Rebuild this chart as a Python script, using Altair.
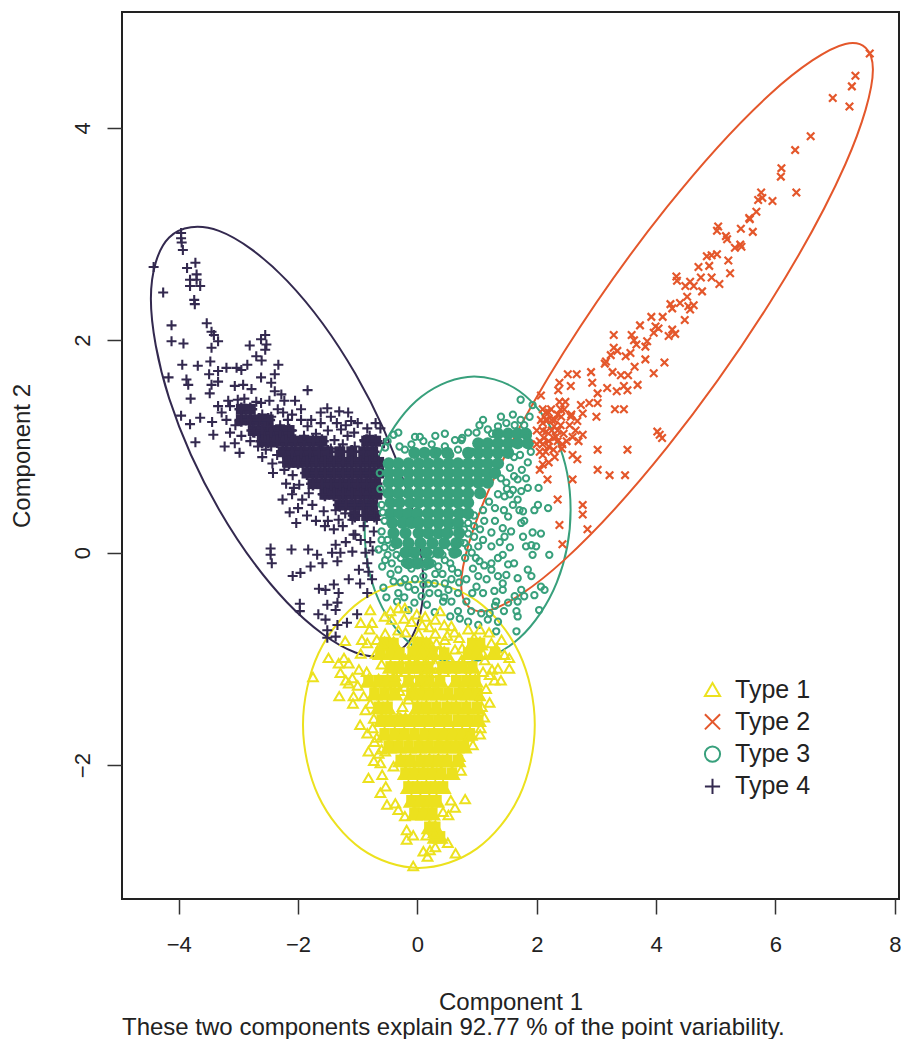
import altair as alt
import pandas as pd

TYPES = ["Type 1", "Type 2", "Type 3", "Type 4"]
COLORS = ["#ECE11E", "#E4572B", "#38A07C", "#33294F"]
PLUS = "M-1,0L1,0M0,-1L0,1"
EX = "M-1,-1L1,1M-1,1L1,-1"
SHAPES = ["triangle-up", EX, "circle", PLUS]

ellipse_1 = [(1.967,-1.62),(1.707,-0.947),(0.996,-0.454),(0.025,-0.273),(-0.946,-0.454),(-1.657,-0.947),(-1.917,-1.62),(-1.657,-2.293),(-0.946,-2.786),(0.025,-2.967),(0.996,-2.786),(1.707,-2.293)]
ellipse_2 = [(7.633,4.548),(7.171,4.789),(5.908,4.316),(4.183,3.255),(2.458,1.891),(1.195,0.589),(0.733,-0.302),(1.195,-0.543),(2.458,-0.07),(4.183,0.991),(5.908,2.355),(7.171,3.657)]
ellipse_3 = [(2.567,0.405),(2.336,1.064),(1.705,1.522),(0.842,1.655),(-0.021,1.428),(-0.652,0.902),(-0.883,0.217),(-0.652,-0.442),(-0.021,-0.90),(0.842,-1.033),(1.705,-0.806),(2.336,-0.28)]
ellipse_4 = [(0.10,-0.30),(-0.206,0.637),(-1.04,1.684),(-2.183,2.559),(-3.325,3.029),(-4.16,2.967),(-4.466,2.39),(-4.16,1.453),(-3.325,0.407),(-2.183,-0.469),(-1.04,-0.939),(-0.206,-0.877)]

core_1 = {
-0.85:[-0.55,-0.40,0.00,0.15,0.92,1.05],
-0.94:[-0.62,-0.45,-0.30,-0.08,0.08,0.25,0.45,0.85,1.00,1.30],
-1.07:[-0.45,-0.30,-0.12,0.02,0.18,0.42,0.58,0.75,0.92],
-1.20:[-0.82,-0.65,-0.50,-0.38,-0.15,0.05,0.20,0.38,0.65,0.82,0.97],
-1.32:[-0.72,-0.55,-0.38,-0.10,0.05,0.20,0.35,0.52,0.70,0.85,1.00],
-1.45:[-0.65,-0.50,0.00,0.15,0.32,0.50,0.65,0.82,1.00],
-1.57:[-0.60,-0.45,-0.28,-0.12,0.02,0.18,0.35,0.50,0.68,0.85,1.02],
-1.70:[-0.55,-0.38,-0.22,-0.05,0.12,0.28,0.45,0.60,0.75,0.88],
-1.82:[-0.48,-0.32,-0.15,0.02,0.18,0.35,0.50,0.65,0.78],
-1.95:[-0.28,-0.12,0.05,0.20,0.35,0.50,0.68],
-2.07:[-0.20,-0.05,0.10,0.25,0.40,0.58],
-2.20:[-0.15,0.00,0.15,0.30,0.43],
-2.33:[-0.10,0.05,0.20,0.32],
-2.45:[-0.05,0.10,0.25],
-2.58:[0.20,0.30],
-2.67:[0.30,0.38],
}
open_1 = [(-1.49,-0.99),(-1.75,-1.17),(-1.31,-1.35),(-1.07,-1.35),(-1.08,-1.42),(-0.96,-1.62),(-0.84,-1.70),(-0.68,-1.74),(-0.82,-1.87),(-0.73,-1.96),(-0.62,-1.98),(-0.82,-2.12),(-0.59,-2.09),(-0.40,-2.01),(-0.62,-2.26),(-0.53,-2.20),(-0.51,-2.37),(-0.37,-2.36),(-0.32,-2.42),(-0.21,-2.48),(-0.18,-2.61),(-0.18,-2.70),(-0.07,-2.66),(0.10,-2.81),(0.21,-2.80),(0.17,-2.86),(0.15,-2.66),(0.27,-2.64),(0.30,-2.77),(0.51,-2.73),(-0.07,-2.95),(0.64,-2.83),(0.80,-2.32),(0.56,-2.33),(0.63,-2.40),(0.43,-2.44),(0.52,-2.47),(0.73,-2.05),(0.71,-1.92),(0.93,-1.81),(0.86,-1.73),(1.05,-1.71),(1.06,-1.65),(1.21,-1.41),(1.29,-1.20),(1.54,-1.09),(1.54,-0.99),(1.35,-1.09),(1.21,-1.15),(-1.32,-1.04),(-1.23,-0.99),(-1.29,-1.13),(-1.15,-1.23),(-1.09,-1.18),(-0.98,-1.10),(-0.90,-1.35),(-0.87,-1.48),(-0.79,-1.42),(-0.73,-1.56),(-1.21,-0.83),(-0.93,-0.82),(-0.76,-0.66),(-0.95,-0.66),(-0.79,-0.54),(-0.32,-0.52),(-0.21,-0.52),(0.02,-0.76),(0.30,-0.76),(0.35,-0.93),(0.63,-0.91),(0.57,-0.69),(1.24,-0.85),(1.41,-0.82),(1.46,-0.96),(-0.54,-0.76),(-0.84,-0.85),(-1.15,-1.04),(-0.65,-1.89),(-0.54,-1.87),(0.13,-0.60),(0.30,-0.63),(-0.43,-0.63),(-0.01,-0.58),(-0.32,-0.73),(0.46,-0.82),(0.24,-0.88),(0.74,-1.01),(1.13,-1.01),(-0.09,-1.01),(0.13,-1.10),(0.30,-1.13),(-0.37,-1.16),(-0.21,-1.26),(-0.15,-1.38),(-0.32,-1.54),(-0.70,-0.95),(-0.55,-0.60),(-0.60,-1.05),(-0.20,-0.75),(-0.10,-0.65),(0.20,-0.70),(0.45,-0.68),(0.70,-0.80),(0.85,-0.72),(1.05,-0.72),(1.20,-0.75),(1.32,-0.90),(1.10,-1.12),(1.15,-1.28),(1.25,-1.10),(1.40,-1.20),(0.25,-0.95),(0.55,-1.00),(0.20,-1.00),(0.15,-1.25),(0.40,-1.22),(-0.20,-1.12),(-0.30,-1.30),(-0.25,-1.45),(-0.45,-1.30),(-0.80,-0.72),(-0.68,-0.82),(-0.45,-0.55),(-0.38,-0.85),(-0.22,-0.62),(-0.08,-0.85),(0.08,-0.68),(0.10,-0.90),(0.38,-0.55),(0.32,-0.85),(0.50,-0.78),(0.62,-0.75),(0.45,-0.95),(0.75,-0.90),(0.95,-0.80),(1.10,-0.95),(1.25,-0.95),(0.05,-1.00),(0.30,-1.05),(0.45,-1.12),(0.12,-1.15),(-0.05,-1.20),(-0.20,-1.00),(-0.08,-1.30),(-0.20,-1.55),(-0.35,-1.12),(-0.60,-0.85),(-0.95,-0.95),(-1.00,-1.25),(-0.85,-1.12),(-1.20,-1.20),(1.08,-1.45),(1.12,-1.55),(1.05,-1.35),(0.95,-1.12),(-0.75,-1.65),(-0.72,-1.78),(-0.60,-1.85)]

open_2 = [(7.58,4.70),(7.34,4.49),(7.28,4.39),(6.96,4.28),(7.24,4.20),(6.59,3.92),(6.33,3.79),(6.10,3.62),(6.09,3.54),(6.35,3.39),(5.95,3.31),(5.76,3.39),(5.71,3.32),(5.78,3.34),(5.68,3.21),(5.56,3.15),(5.57,3.14),(5.62,3.02),(5.42,3.05),(5.04,3.07),(5.02,3.03),(5.17,2.98),(5.19,2.95),(5.41,2.90),(5.32,2.87),(5.43,2.88),(5.02,2.81),(4.93,2.80),(4.85,2.79),(4.89,2.70),(5.21,2.75),(5.24,2.63),(4.71,2.69),(4.75,2.59),(4.93,2.59),(5.06,2.53),(4.34,2.60),(4.35,2.56),(4.77,2.46),(4.57,2.55),(4.49,2.51),(4.63,2.51),(4.52,2.41),(4.40,2.35),(4.24,2.34),(4.27,2.30),(4.63,2.33),(4.54,2.32),(4.57,2.29),(3.92,2.22),(4.11,2.22),(4.48,2.19),(3.73,2.14),(3.99,2.13),(4.04,2.11),(3.96,2.07),(4.27,2.10),(4.32,2.06),(4.21,2.04),(3.29,2.05),(3.59,2.05),(3.63,2.00),(3.85,1.99),(3.67,1.96),(3.82,1.94),(3.29,1.93),(3.35,1.90),(3.24,1.86),(3.49,1.85),(3.57,1.88),(3.16,1.80),(3.14,1.78),(3.82,1.82),(4.14,1.79),(3.64,1.75),(3.96,1.69),(2.91,1.70),(2.52,1.68),(2.67,1.68),(3.27,1.70),(3.41,1.67),(3.53,1.67),(3.69,1.58),(2.93,1.60),(2.38,1.60),(2.57,1.57),(2.36,1.53),(3.18,1.55),(3.46,1.57),(3.52,1.53),(3.34,1.52),(3.02,1.50),(2.07,1.48),(3.31,1.35),(3.46,1.35),(3.00,1.28),(4.06,1.11),(2.38,1.42),(2.24,1.35),(2.46,1.35),(2.74,1.39),(2.88,1.41),(3.02,1.41),(2.77,1.31),(2.68,1.24),(2.57,1.28),(2.41,1.28),(2.18,1.25),(2.29,1.19),(2.07,1.25),(2.16,1.14),(2.32,1.09),(2.60,1.09),(2.77,1.11),(2.10,1.35),(2.10,0.83),(2.18,0.69),(2.10,1.02),(2.43,1.02),(2.68,0.88),(3.02,0.97),(3.52,0.97),(3.48,0.73),(2.77,0.45),(2.77,0.36),(2.38,0.26),(2.43,0.08),(2.85,0.22),(2.60,0.69),(2.35,0.50),(3.02,0.78),(3.22,0.73),(2.60,0.92),(4.02,1.14),(4.10,1.08),(2.05,1.05),(2.10,1.15),(2.20,1.05),(2.25,1.15),(2.30,1.25),(2.40,1.20),(2.35,1.05),(2.45,1.12),(2.15,0.95),(2.00,1.15),(2.15,1.25),(2.28,0.97),(2.50,1.05),(2.55,1.20),(2.05,0.95),(2.20,1.32),(2.10,1.22),(2.35,1.30),(2.42,0.98),(2.58,1.30),(2.65,1.15),(2.70,1.05),(2.15,1.32),(2.00,1.02),(2.25,1.25),(2.48,1.42),(2.20,1.00),(2.35,1.15),(2.12,1.08),(2.28,1.08),(2.40,1.35),(2.10,0.92),(2.05,0.78),(2.20,0.85),(2.30,0.90)]

core_3 = {
1.12:[1.35,1.52,1.68,1.82],
1.03:[1.02,1.18,1.35,1.52,1.68,1.85],
0.94:[-0.05,0.12,0.30,0.50,0.85,1.02,1.18,1.35,1.52],
0.84:[-0.48,-0.32,-0.15,0.02,0.18,0.35,0.52,0.68,0.85,1.02,1.18,1.35],
0.75:[-0.48,-0.32,-0.15,0.02,0.18,0.35,0.52,0.68,0.85,1.02,1.18,1.30],
0.66:[-0.48,-0.32,-0.15,0.02,0.18,0.35,0.52,0.68,0.85,1.02,1.18],
0.56:[-0.48,-0.32,-0.15,0.02,0.18,0.35,0.52,0.68,0.85,1.05],
0.47:[-0.45,-0.30,-0.12,0.02,0.18,0.35,0.52,0.68,0.85],
0.37:[-0.45,-0.30,-0.15,0.00,0.18,0.35,0.52,0.70,0.85],
0.28:[-0.42,-0.25,-0.10,0.02,0.18,0.35,0.52,0.68],
0.185:[-0.40,-0.20,0.02,0.18,0.35,0.50,0.70],
0.09:[-0.35,-0.15,0.05,0.25,0.45,0.65],
0.00:[-0.20,-0.05,0.15,0.35,0.62],
-0.10:[-0.15,0.00,0.18],
}
open_3 = [(-0.32,1.13),(-0.40,1.11),(-0.54,0.99),(-0.04,1.09),(0.04,1.09),(-0.21,0.97),(0.24,1.02),(0.46,1.12),(0.63,1.06),(0.46,1.00),(0.74,1.06),(0.85,1.13),(0.99,1.13),(1.18,1.16),(1.04,1.20),(1.35,1.19),(1.49,1.22),(1.63,1.20),(1.79,1.20),(0.91,0.95),(0.68,0.97),(1.68,0.69),(1.82,0.70),(1.74,0.58),(1.85,0.61),(2.03,0.61),(1.60,0.59),(1.49,0.66),(1.46,0.53),(1.68,0.50),(1.71,0.40),(1.77,0.39),(1.96,0.40),(2.02,0.45),(2.19,0.42),(1.79,0.30),(1.74,0.28),(1.52,0.34),(1.43,0.23),(1.57,0.20),(1.77,0.15),(1.93,0.19),(2.07,0.18),(1.46,0.15),(1.24,0.19),(1.24,0.06),(1.82,0.06),(1.91,0.07),(1.99,0.06),(1.93,-0.02),(2.21,-0.02),(1.43,-0.02),(1.52,-0.11),(1.24,-0.10),(1.04,-0.08),(0.93,-0.15),(1.24,-0.16),(1.49,-0.21),(1.35,-0.22),(1.85,-0.16),(1.91,-0.22),(1.68,-0.24),(1.43,-0.29),(1.43,-0.35),(1.16,-0.25),(1.02,-0.22),(0.82,-0.25),(0.68,-0.19),(0.57,-0.25),(0.46,-0.29),(0.29,-0.29),(0.18,-0.29),(-0.04,-0.25),(-0.21,-0.25),(-0.40,-0.27),(-0.57,-0.33),(2.07,-0.32),(2.13,-0.35),(2.04,-0.54),(1.96,-0.40),(1.74,-0.35),(1.79,-0.41),(1.63,-0.41),(1.68,-0.46),(1.29,-0.36),(1.32,-0.46),(1.52,-0.47),(1.66,-0.55),(1.68,-0.60),(1.21,-0.57),(1.07,-0.57),(0.68,-0.55),(0.71,-0.62),(0.85,-0.65),(1.02,-0.68),(1.18,-0.63),(1.35,-0.65),(1.32,-0.74),(1.66,-0.74),(0.68,-0.38),(0.82,-0.46),(0.57,-0.46),(0.43,-0.46),(0.35,-0.38),(0.52,-0.35),(0.99,-0.32),(-0.34,-0.46),(0.07,-0.41),(0.16,-0.49),(0.29,-0.56),(-0.15,-0.54),(-0.32,-0.38),(-0.65,0.03),(-0.54,-0.07),(-0.43,-0.10),(-0.21,-0.10),(-0.59,-0.13),(-0.32,-0.16),(-0.15,-0.32),(-0.04,-0.35),(0.13,-0.13),(0.35,-0.13),(0.46,-0.07),(0.68,0.00),(0.91,0.00),(1.02,0.06),(0.79,0.09),(1.73,1.44),(1.93,1.39),(1.88,1.28),(1.73,1.25),(-0.50,1.05),(-0.30,1.00),(-0.10,1.02),(0.10,1.05),(0.30,1.10),(0.35,0.95),(0.55,0.92),(0.75,1.08),(1.10,1.25),(1.25,1.12),(1.40,1.28),(1.60,1.30),(1.85,1.10),(1.90,0.95),(1.85,0.85),(1.75,0.78),(1.62,0.72),(1.50,0.60),(1.35,0.55),(1.20,0.48),(1.10,0.40),(0.95,0.35),(0.85,0.28),(1.05,0.22),(0.95,0.15),(0.85,0.05),(-0.55,0.30),(-0.60,0.20),(-0.50,0.12),(-0.55,0.05),(-0.35,-0.02),(0.10,-0.22),(0.30,-0.20),(0.55,-0.10),(0.60,0.20),(0.85,0.18),(-0.60,0.45),(-0.62,0.60),(-0.63,0.75),(-0.58,0.38),(-0.60,0.12),(-0.50,-0.02),(-0.42,0.05),(-0.28,-0.05),(-0.12,-0.05),(0.05,-0.03),(0.22,-0.02),(0.42,-0.02),(0.55,0.05),(0.72,0.10),(0.78,0.22),(0.95,0.25),(1.12,0.30),(1.30,0.30),(1.10,0.12),(0.98,-0.05),(0.80,-0.05),(0.58,-0.15),(0.42,-0.20),(0.25,-0.10),(0.10,-0.30),(-0.10,-0.15),(-0.28,-0.28),(-0.45,-0.20),(-0.52,-0.42),(-0.22,-0.42),(-0.05,-0.47),(0.20,-0.38),(0.45,-0.42),(0.70,-0.28),(0.92,-0.38),(1.10,-0.38),(1.12,-0.12),(1.35,-0.05),(1.38,0.10),(1.55,0.05),(1.62,-0.10),(1.30,-0.50),(1.45,-0.55),(0.90,-0.55),(0.55,-0.60),(1.45,0.40),(1.30,0.42),(1.60,0.45),(1.55,0.55),(1.40,0.70),(1.55,0.80),(1.62,0.90),(1.72,0.92)]

core_4 = {
1.35:[-2.95,-2.80],
1.25:[-2.95,-2.80,-2.65,-2.50],
1.15:[-2.75,-2.60,-2.45,-2.30,-2.15],
1.05:[-2.60,-2.50,-2.35,-2.20,-2.05,-1.90,-1.75,-1.60,-0.85,-0.70],
0.95:[-2.25,-2.10,-1.95,-1.80,-1.65,-1.50,-1.30,-1.10,-0.90,-0.75],
0.85:[-2.15,-2.00,-1.85,-1.70,-1.55,-1.40,-1.25,-1.10,-0.95,-0.80,-0.65],
0.75:[-1.85,-1.70,-1.55,-1.40,-1.25,-1.10,-0.95,-0.80,-0.65],
0.65:[-1.75,-1.60,-1.45,-1.30,-1.15,-1.00,-0.85,-0.70],
0.55:[-1.55,-1.40,-1.25,-1.10,-0.95,-0.80,-0.68],
0.45:[-1.30,-1.20,-1.05,-0.90,-0.75],
0.35:[-1.05,-0.85,-0.72],
}
open_4 = [(-3.96,3.01),(-3.96,2.96),(-3.95,2.92),(-3.93,2.85),(-4.42,2.69),(-4.26,2.45),(-3.72,2.73),(-3.86,2.68),(-3.70,2.62),(-3.81,2.57),(-3.70,2.57),(-3.81,2.51),(-3.64,2.51),(-3.74,2.38),(-3.73,2.34),(-4.12,2.14),(-3.53,2.16),(-3.45,2.08),(-3.41,2.05),(-4.12,1.99),(-3.92,1.97),(-3.34,1.99),(-3.45,1.93),(-2.55,2.05),(-2.62,2.01),(-2.53,1.96),(-2.81,1.95),(-2.55,1.91),(-2.70,1.85),(-2.61,1.81),(-3.47,1.80),(-3.94,1.77),(-3.68,1.76),(-4.17,1.65),(-3.87,1.63),(-3.84,1.58),(-3.80,1.45),(-3.49,1.68),(-3.34,1.71),(-3.20,1.74),(-3.03,1.74),(-2.85,1.77),(-2.95,1.72),(-2.33,1.77),(-2.39,1.68),(-2.62,1.65),(-2.45,1.60),(-3.34,1.61),(-3.45,1.58),(-3.48,1.50),(-2.39,1.52),(-2.28,1.49),(-1.84,1.53),(-2.23,1.43),(-2.05,1.43),(-3.96,1.29),(-3.64,1.27),(-3.81,1.21),(-3.44,1.23),(-3.42,1.11),(-3.14,1.13),(-3.72,1.04),(-3.23,1.00),(-3.06,1.03),(-2.98,0.94),(-1.51,1.36),(-1.62,1.32),(-1.31,1.33),(-1.16,1.32),(-1.11,1.24),(-1.45,1.28),(-2.26,0.50),(-2.42,0.75),(-2.14,0.38),(-2.03,0.28),(-1.55,0.25),(-2.46,0.04),(-2.46,-0.02),(-2.44,-0.10),(-2.11,0.03),(-1.83,0.03),(-1.68,-0.02),(-1.37,0.075),(-1.29,0.00),(-1.43,0.00),(-1.09,0.01),(-1.34,-0.08),(-1.59,-0.10),(-1.79,-0.13),(-1.96,-0.19),(-2.09,-0.22),(-0.87,0.00),(-0.98,-0.16),(-0.84,-0.10),(-0.82,-0.18),(-1.15,-0.25),(-0.96,-0.29),(-0.76,-0.25),(-1.40,-0.30),(-1.65,-0.34),(-1.54,-0.35),(-1.32,-0.38),(-0.84,-0.38),(-1.97,-0.48),(-1.97,-0.55),(-1.51,-0.49),(-1.34,-0.47),(-1.37,-0.54),(-1.66,-0.58),(-1.54,-0.63),(-1.01,-0.58),(-1.51,-0.73),(-1.34,-0.68),(-1.18,-0.66),(-1.51,-0.80),(-1.37,-0.79),(-1.07,0.17),(-0.79,0.10),(-3.34,1.38),(-3.28,1.32),(-3.17,1.43),(-3.06,1.57),(-2.92,1.58),(-2.78,1.54),(-2.62,1.41),(-2.48,1.43),(-2.34,1.35),(-2.17,1.25),(-1.95,1.25),(-1.78,1.25),(-1.62,1.22),(-1.28,1.16),(-1.06,1.13),(-0.84,1.17),(-0.62,1.17),(-0.56,1.03),(-0.89,1.06),(-1.17,1.10),(-1.39,1.06),(-1.62,1.03),(-1.84,1.19),(-2.51,1.19),(-2.73,1.13),(-2.67,1.00),(-2.45,1.00),(-2.84,1.25),(-3.01,1.44),(-3.14,1.38),(-2.54,0.97),(-2.43,0.84),(-2.23,0.78),(-2.09,0.73),(-2.07,0.61),(-1.93,0.50),(-1.76,0.45),(-1.57,0.39),(-1.32,0.31),(-1.04,0.17),(-0.90,0.25),(-0.68,0.31),(-0.73,0.20),(-1.59,0.55),(-1.98,0.64),(-1.37,0.40),(-1.09,0.31),(-1.21,0.37),(-1.82,0.56),(-2.30,1.20),(-2.10,1.15),(-1.90,1.10),(-1.70,1.12),(-1.50,1.15),(-1.35,1.22),(-1.20,1.20),(-1.00,1.22),(-0.80,1.10),(-0.70,1.22),(-1.45,0.98),(-1.25,1.02),(-1.05,1.00),(-2.60,1.30),(-2.45,1.28),(-2.25,1.32),(-2.10,1.30),(-1.95,1.35),(-2.90,1.45),(-2.70,1.42),(-3.20,1.25),(-3.05,1.20),(-2.95,1.10),(-2.80,1.05),(-2.60,0.90),(-2.35,0.92),(-2.20,0.65),(-2.25,0.85),(-2.10,0.55),(-2.00,0.42),(-1.85,0.35),(-1.70,0.30),(-1.50,0.30),(-1.40,0.22),(-1.25,0.25),(-0.95,0.12),(-0.75,0.02),(-1.20,0.10)]

XDOM = [-4.95, 8.07]
YDOM = [-3.26, 5.09]
x_scale = alt.Scale(domain=XDOM, nice=False, zero=False)
y_scale = alt.Scale(domain=YDOM, nice=False, zero=False)
x_enc = alt.X("x:Q", scale=x_scale, axis=alt.Axis(
    values=[-4, -2, 0, 2, 4, 6, 8], title="Component 1", grid=False, domain=False,
    tickSize=15, tickWidth=1.5, tickColor="#333", labelFontSize=22, labelColor="#222",
    labelPadding=20, labelFont="Liberation Sans", titleFont="Liberation Sans",
    titleFontSize=24, titleFontWeight="normal", titleColor="#222", titlePadding=35, labelFlush=False))
y_enc = alt.Y("y:Q", scale=y_scale, axis=alt.Axis(
    values=[-2, 0, 2, 4], title="Component 2", grid=False, domain=False,
    tickSize=15, tickWidth=1.5, tickColor="#333", labelFontSize=22, labelColor="#222",
    labelAngle=270, labelAlign="center", labelBaseline="middle", labelPadding=25,
    labelFont="Liberation Sans", titleFont="Liberation Sans", titleFontSize=24,
    titleFontWeight="normal", titleColor="#222", titlePadding=37))


def pairs(lst):
    return pd.DataFrame(lst, columns=["x", "y"])


def rows(d):
    return pd.DataFrame([(x, y) for y, xs in d.items() for x in xs], columns=["x", "y"])


def ellipse(lst, color):
    df = pairs(lst)
    df["i"] = range(len(df))
    return alt.Chart(df).mark_line(interpolate="cardinal-closed", strokeWidth=2, color=color).encode(
        x=x_enc, y=y_enc, order="i:Q")


def core(d, shape, size, color):
    return alt.Chart(rows(d)).mark_point(filled=True, shape=shape, size=size, color=color, opacity=1, strokeWidth=0).encode(
        x=x_enc, y=y_enc)


def core_stroke(d, shape, size, color, sw):
    return alt.Chart(rows(d)).mark_point(filled=False, shape=shape, size=size, color=color, opacity=1, strokeWidth=sw).encode(
        x=x_enc, y=y_enc)


LEG = dict(title=None, orient="none", legendX=578, legendY=665, labelFontSize=25, labelFont="Liberation Sans",
           labelColor="#222", symbolSize=230, symbolStrokeWidth=2, rowPadding=6.3, labelOffset=10)
color_enc = alt.Color("type:N", scale=alt.Scale(domain=TYPES, range=COLORS), legend=alt.Legend(**LEG))
shape_enc = alt.Shape("type:N", scale=alt.Scale(domain=TYPES, range=SHAPES), legend=alt.Legend(**LEG))


def opens(lst, name, size, sw):
    df = pairs(lst)
    df["type"] = name
    return alt.Chart(df).mark_point(filled=False, opacity=1, size=size, strokeWidth=sw).encode(
        x=x_enc, y=y_enc, color=color_enc, shape=shape_enc)


caption = alt.Chart(pd.DataFrame({"t": ["These two components explain 92.77 % of the point variability."]})).mark_text(
    align="left", baseline="middle", font="Liberation Sans", fontSize=24, color="#222").encode(
    x=alt.value(0), y=alt.value(1016), text="t:N")

chart = alt.layer(
    ellipse(ellipse_4, COLORS[3]), ellipse(ellipse_3, COLORS[2]), ellipse(ellipse_2, COLORS[1]), ellipse(ellipse_1, COLORS[0]),
    core(core_4, "square", 120, COLORS[3]), core_stroke(core_4, PLUS, 190, COLORS[3], 2.5), opens(open_4, "Type 4", 100, 2.1),
    core(core_3, "circle", 150, COLORS[2]), opens(open_3, "Type 3", 40, 2),
    opens(open_2, "Type 2", 56, 2.2),
    core(core_1, "square", 110, COLORS[0]), core(core_1, "triangle-up", 300, COLORS[0]), opens(open_1, "Type 1", 95, 2),
    caption,
).properties(
    width=777, height=887,
    autosize=alt.AutoSizeParams(type="none"),
    padding={"left": 114, "top": 4, "right": 2, "bottom": 140},
    background="white",
).configure_view(stroke="#222", strokeWidth=2)

chart.save("out.html", embed_options={"renderer": "svg", "actions": False})
